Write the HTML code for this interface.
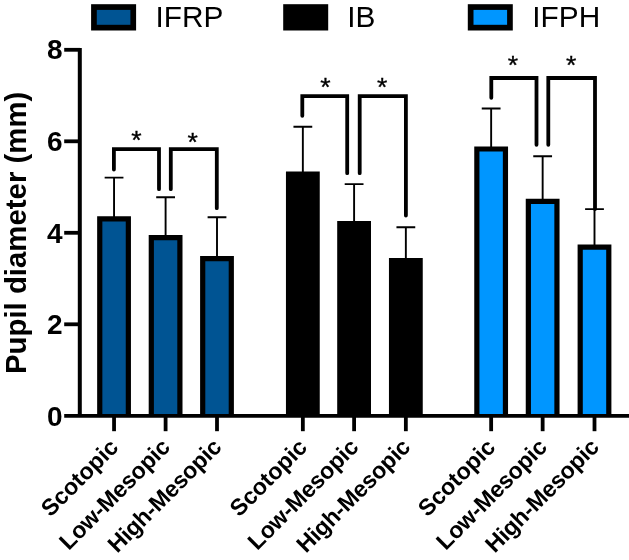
<!DOCTYPE html>
<html><head><meta charset="utf-8"><title>Pupil diameter</title>
<style>html,body{margin:0;padding:0;background:#fff}svg{display:block}</style></head>
<body>
<svg width="629" height="560" viewBox="0 0 629 560">
<rect width="629" height="560" fill="#fff"/>
<path d="M99.75 415.80V218.90H128.35V415.80" fill="#005493" stroke="#000" stroke-width="5.2"/>
<path d="M114.05 217.30V177.60M104.65 177.60H123.45" stroke="#000" stroke-width="1.9" fill="none"/>
<path d="M151.30 415.80V237.60H179.90V415.80" fill="#005493" stroke="#000" stroke-width="5.2"/>
<path d="M165.60 236.00V197.20M156.20 197.20H175.00" stroke="#000" stroke-width="1.9" fill="none"/>
<path d="M202.70 415.80V258.70H231.30V415.80" fill="#005493" stroke="#000" stroke-width="5.2"/>
<path d="M217.00 257.10V217.20M207.60 217.20H226.40" stroke="#000" stroke-width="1.9" fill="none"/>
<path d="M288.55 415.80V174.00H317.15V415.80" fill="#000" stroke="#000" stroke-width="5.2"/>
<path d="M302.85 172.40V126.70M293.45 126.70H312.25" stroke="#000" stroke-width="1.9" fill="none"/>
<path d="M339.80 415.80V223.70H368.40V415.80" fill="#000" stroke="#000" stroke-width="5.2"/>
<path d="M354.10 222.10V184.10M344.70 184.10H363.50" stroke="#000" stroke-width="1.9" fill="none"/>
<path d="M391.55 415.80V260.60H420.15V415.80" fill="#000" stroke="#000" stroke-width="5.2"/>
<path d="M405.85 259.00V227.20M396.45 227.20H415.25" stroke="#000" stroke-width="1.9" fill="none"/>
<path d="M476.85 415.80V149.00H505.45V415.80" fill="#0096ff" stroke="#000" stroke-width="5.2"/>
<path d="M491.15 147.40V108.50M481.75 108.50H500.55" stroke="#000" stroke-width="1.9" fill="none"/>
<path d="M528.35 415.80V201.30H556.95V415.80" fill="#0096ff" stroke="#000" stroke-width="5.2"/>
<path d="M542.65 199.70V156.30M533.25 156.30H552.05" stroke="#000" stroke-width="1.9" fill="none"/>
<path d="M580.20 415.80V247.10H608.80V415.80" fill="#0096ff" stroke="#000" stroke-width="5.2"/>
<path d="M594.50 245.50V209.10M585.10 209.10H603.90" stroke="#000" stroke-width="1.9" fill="none"/>
<path d="M79.8 47.90V415.80" stroke="#000" stroke-width="4" fill="none"/>
<path d="M64.2 415.80H629" stroke="#000" stroke-width="3.8" fill="none"/>
<path d="M64.2 324.30H80" stroke="#000" stroke-width="3.8" fill="none"/>
<path d="M64.2 232.80H80" stroke="#000" stroke-width="3.8" fill="none"/>
<path d="M64.2 141.30H80" stroke="#000" stroke-width="3.8" fill="none"/>
<path d="M64.2 49.80H80" stroke="#000" stroke-width="3.8" fill="none"/>
<path d="M114.05 415.80V431.2" stroke="#000" stroke-width="3.8" fill="none"/>
<path d="M165.60 415.80V431.2" stroke="#000" stroke-width="3.8" fill="none"/>
<path d="M217.00 415.80V431.2" stroke="#000" stroke-width="3.8" fill="none"/>
<path d="M302.85 415.80V431.2" stroke="#000" stroke-width="3.8" fill="none"/>
<path d="M354.10 415.80V431.2" stroke="#000" stroke-width="3.8" fill="none"/>
<path d="M405.85 415.80V431.2" stroke="#000" stroke-width="3.8" fill="none"/>
<path d="M491.15 415.80V431.2" stroke="#000" stroke-width="3.8" fill="none"/>
<path d="M542.65 415.80V431.2" stroke="#000" stroke-width="3.8" fill="none"/>
<path d="M594.50 415.80V431.2" stroke="#000" stroke-width="3.8" fill="none"/>
<g font-family="'Liberation Sans', Arial, sans-serif" font-weight="bold" font-size="28" text-anchor="end" fill="#000">
<text x="62.6" y="425.95">0</text>
<text x="62.6" y="334.31">2</text>
<text x="62.6" y="242.68">4</text>
<text x="62.6" y="151.04">6</text>
<text x="62.6" y="59.40">8</text>
</g>
<text transform="translate(26,232.85) rotate(-90)" font-family="'Liberation Sans', Arial, sans-serif" font-weight="bold" font-size="29.4" text-anchor="middle" fill="#000">Pupil diameter (mm)</text>
<g font-family="'Liberation Sans', Arial, sans-serif" font-weight="bold" font-size="23.2" text-anchor="end" fill="#000">
<text transform="translate(119.65,448.50) rotate(-45)">Scotopic</text>
<text transform="translate(171.20,448.50) rotate(-45)" letter-spacing="-0.18">Low-Mesopic</text>
<text transform="translate(222.60,448.50) rotate(-45)" letter-spacing="-0.25">High-Mesopic</text>
<text transform="translate(308.45,448.50) rotate(-45)">Scotopic</text>
<text transform="translate(359.70,448.50) rotate(-45)" letter-spacing="-0.18">Low-Mesopic</text>
<text transform="translate(411.45,448.50) rotate(-45)" letter-spacing="-0.25">High-Mesopic</text>
<text transform="translate(496.75,448.50) rotate(-45)">Scotopic</text>
<text transform="translate(548.25,448.50) rotate(-45)" letter-spacing="-0.18">Low-Mesopic</text>
<text transform="translate(600.10,448.50) rotate(-45)" letter-spacing="-0.25">High-Mesopic</text>
</g>
<path d="M113.90 169.60V149.20H159.00V189.20" stroke="#000" stroke-width="3.8" fill="none" stroke-linecap="round" stroke-linejoin="miter"/>
<path d="M170.80 189.20V149.20H216.80V208.20" stroke="#000" stroke-width="3.8" fill="none" stroke-linecap="round" stroke-linejoin="miter"/>
<path d="M302.30 115.80V96.10H347.20V173.20" stroke="#000" stroke-width="3.8" fill="none" stroke-linecap="round" stroke-linejoin="miter"/>
<path d="M359.70 173.20V96.10H405.90V215.50" stroke="#000" stroke-width="3.8" fill="none" stroke-linecap="round" stroke-linejoin="miter"/>
<path d="M491.30 97.80V78.00H536.50V144.80" stroke="#000" stroke-width="3.8" fill="none" stroke-linecap="round" stroke-linejoin="miter"/>
<path d="M548.30 144.80V78.00H595.00V209.00" stroke="#000" stroke-width="3.8" fill="none" stroke-linecap="round" stroke-linejoin="miter"/>
<g font-family="'Liberation Sans', Arial, sans-serif" font-size="26.6" text-anchor="middle" fill="#000" stroke="#000" stroke-width="0.35">
<text transform="translate(136.30,148.50) scale(1,0.95)">*</text>
<text transform="translate(192.70,151.40) scale(1,0.95)">*</text>
<text transform="translate(325.50,96.20) scale(1,0.95)">*</text>
<text transform="translate(382.20,96.20) scale(1,0.95)">*</text>
<text transform="translate(512.90,73.90) scale(1,0.95)">*</text>
<text transform="translate(571.20,73.90) scale(1,0.95)">*</text>
</g>
<rect x="93.95" y="7.05" width="39.30" height="20.60" fill="#005493" stroke="#000" stroke-width="5.7"/>
<text x="155.50" y="27.3" font-family="'Liberation Sans', Arial, sans-serif" font-size="29.8" fill="#000">IFRP</text>
<rect x="286.05" y="7.05" width="39.30" height="20.60" fill="#000" stroke="#000" stroke-width="5.7"/>
<text x="347.20" y="27.3" font-family="'Liberation Sans', Arial, sans-serif" font-size="29.8" fill="#000">IB</text>
<rect x="470.65" y="7.05" width="39.30" height="20.60" fill="#0096ff" stroke="#000" stroke-width="5.7"/>
<text x="532.30" y="27.3" font-family="'Liberation Sans', Arial, sans-serif" font-size="29.8" fill="#000">IFPH</text>
</svg>
</body></html>
